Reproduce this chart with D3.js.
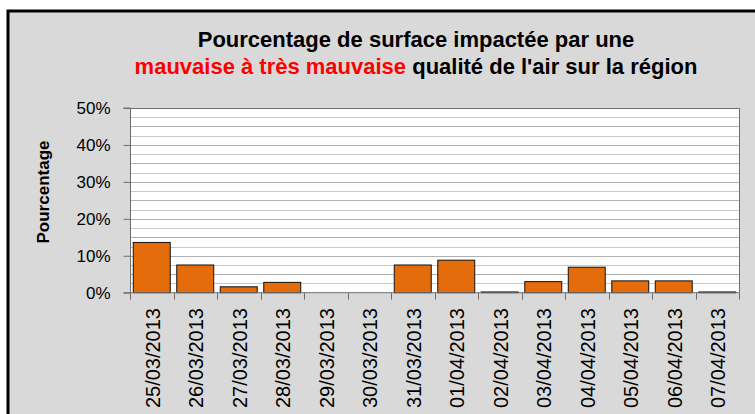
<!DOCTYPE html>
<html>
<head>
<meta charset="utf-8">
<script src="https://cdn.jsdelivr.net/npm/d3@7/dist/d3.min.js"></script>
<style>
html,body{margin:0;padding:0;background:#fff;}
svg{display:block;}
text{font-family:"Liberation Sans",Arial,sans-serif;}
</style>
</head>
<body>
<svg id="chart" width="755" height="414"></svg>
<script>
const categories = ["25/03/2013","26/03/2013","27/03/2013","28/03/2013","29/03/2013","30/03/2013","31/03/2013","01/04/2013","02/04/2013","03/04/2013","04/04/2013","05/04/2013","06/04/2013","07/04/2013"];
const values = [0.136,0.075,0.016,0.028,0,0,0.075,0.088,0.002,0.030,0.069,0.032,0.032,0.002];
const yTicks = [0,0.1,0.2,0.3,0.4,0.5];
const titleLine1 = "Pourcentage de surface impactée par une";
const titleRed = "mauvaise à très mauvaise";
const titleRest = " qualité de l'air sur la région";
const yTitle = "Pourcentage";

const svg = d3.select("#chart");
// chart area background with border
svg.append("rect").attr("x",8).attr("y",11).attr("width",760).attr("height",420)
  .attr("fill","#d9d9d9").attr("stroke","#000").attr("stroke-width",3);

const plot = {left:130,right:739,top:108,bottom:292.7};
const x = d3.scaleBand().domain(categories).range([plot.left,plot.right]).paddingInner(0.15).paddingOuter(0.075);
const y = d3.scaleLinear().domain([0,0.5]).range([plot.bottom,plot.top]);

// plot area
svg.append("rect").attr("x",plot.left).attr("y",plot.top).attr("width",plot.right-plot.left).attr("height",plot.bottom-plot.top)
  .attr("fill","#fff");

// gridlines every 2.5%
const grid = d3.range(0,0.5001,0.025).filter(v=>v>0.001);
svg.append("g").selectAll("line").data(grid).join("line")
  .attr("x1",plot.left).attr("x2",plot.right)
  .attr("y1",d=>Math.round(y(d))+0.5).attr("y2",d=>Math.round(y(d))+0.5)
  .attr("stroke",(d,i)=> i%2===0 ? "#c8c8c8" : "#b0b0b0").attr("stroke-width",1);

// plot border right/top
svg.append("path").attr("d",`M${plot.left},${Math.round(plot.top)+0.5}H${plot.right+0.5}V${plot.bottom}`)
  .attr("fill","none").attr("stroke","#6e6e6e").attr("stroke-width",1);

// bars
svg.append("g").selectAll("rect").data(values.map((v,i)=>({c:categories[i],v}))).join("rect")
  .filter(d=>d.v>0)
  .attr("x",d=>x(d.c)).attr("width",x.bandwidth())
  .attr("y",d=>y(d.v)).attr("height",d=>y(0)-y(d.v))
  .attr("fill","#E46C0A").attr("stroke","#111").attr("stroke-width",1);

// y axis
const yAxis = d3.axisLeft(y).tickValues(yTicks).tickFormat(d=>Math.round(d*100)+"%").tickSize(7).tickPadding(13);
const gy = svg.append("g").attr("transform",`translate(${plot.left+0.5},0)`).call(yAxis);
gy.select(".domain").attr("stroke","#6e6e6e").attr("d",`M-7,${plot.top}H0V${plot.bottom}H-7`);
gy.selectAll(".tick line").attr("stroke","#6e6e6e");
gy.selectAll(".tick text").attr("font-size",17).attr("fill","#000").attr("font-family","Liberation Sans, Arial, sans-serif");

// x axis
const gx = svg.append("g").attr("transform",`translate(0,${plot.bottom})`);
gx.append("line").attr("x1",plot.left).attr("x2",plot.right).attr("stroke","#6e6e6e");
const bounds = categories.map(c=>x(c)-x.step()*x.paddingInner()/2).concat([plot.right]);
gx.selectAll(".tk").data(bounds).join("line").attr("class","tk")
  .attr("x1",d=>Math.round(d)+0.5).attr("x2",d=>Math.round(d)+0.5).attr("y1",0).attr("y2",7)
  .attr("stroke","#6e6e6e");
gx.selectAll(".lbl").data(categories).join("text").attr("class","lbl")
  .attr("transform",d=>`translate(${x(d)+x.bandwidth()/2+1},${308-plot.bottom}) rotate(-90)`)
  .attr("text-anchor","end").attr("dy","0.35em").attr("font-size",20).attr("fill","#000")
  .text(d=>d);

// y title
svg.append("text").attr("transform","translate(43.5,192) rotate(-90)")
  .attr("text-anchor","middle").attr("dy","0.35em").attr("font-weight","bold").attr("font-size",17)
  .text(yTitle);

// title
const t1 = svg.append("text").attr("x",416).attr("y",47).attr("text-anchor","middle")
  .attr("font-weight","bold").attr("font-size",22).attr("fill","#000").text(titleLine1);
const t2 = svg.append("text").attr("x",416).attr("y",74).attr("text-anchor","middle")
  .attr("font-weight","bold").attr("font-size",22);
t2.append("tspan").attr("fill","#ff0000").text(titleRed);
t2.append("tspan").attr("fill","#000").text(titleRest);
</script>
</body>
</html>
